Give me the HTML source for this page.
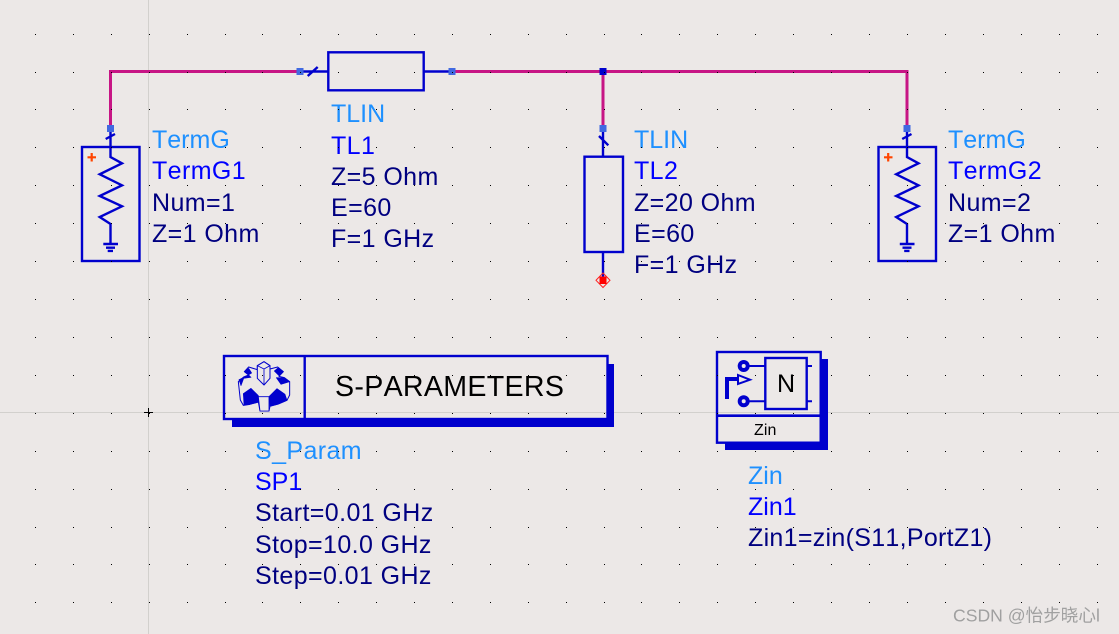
<!DOCTYPE html>
<html><head><meta charset="utf-8">
<style>
html,body{margin:0;padding:0;width:1119px;height:634px;overflow:hidden;background:#ece8e7}
svg{display:block}
text{font-family:"Liberation Sans","Noto Sans CJK SC",sans-serif;font-size:25px;letter-spacing:.4px;font-kerning:none}
.a{fill:#1e90ff}.b{fill:#0000ff}.c{fill:#000080}
.n{letter-spacing:0}
.k{fill:none;stroke:#0000cd;stroke-width:2}
.k3{fill:none;stroke:#0000cd;stroke-width:2.4}
.g{fill:#0000cd;stroke:#0000cd;stroke-width:2;stroke-linejoin:round}
.o{fill:#ece8e7;stroke:#0000cd;stroke-width:3;stroke-linejoin:round}
.l{fill:none;stroke:#0000cd;stroke-width:2.5;stroke-linejoin:round}
</style></head>
<body>
<svg width="1119" height="634" viewBox="0 0 1119 634" xmlns="http://www.w3.org/2000/svg">
<defs>
<g id="term">
<rect x="82" y="147" width="57.5" height="114" class="k3"/>
<path d="M110.5 128V157L122 163.3L99.7 174.3L122 185.3L99.7 196L122 206.3L99.7 217L110.5 224V244M103.3 244H118M106 247.7H115M107.7 250.9H113M105.7 139L115 134" class="k3"/>
<path d="M87.5 157.3H96M91.7 153V161.5" stroke="#ff4500" stroke-width="2.2" fill="none"/>
<rect x="107" y="125" width="7" height="7" fill="#4169e1"/>
</g>
<g id="r" fill="#000" shape-rendering="crispEdges">
<rect x="35" width="1" height="1"/><rect x="73" width="1" height="1"/><rect x="111" width="1" height="1"/><rect x="149" width="1" height="1"/><rect x="187" width="1" height="1"/><rect x="225" width="1" height="1"/><rect x="262" width="1" height="1"/><rect x="300" width="1" height="1"/><rect x="338" width="1" height="1"/><rect x="376" width="1" height="1"/><rect x="414" width="1" height="1"/><rect x="452" width="1" height="1"/><rect x="490" width="1" height="1"/><rect x="528" width="1" height="1"/><rect x="566" width="1" height="1"/><rect x="604" width="1" height="1"/><rect x="641" width="1" height="1"/><rect x="679" width="1" height="1"/><rect x="717" width="1" height="1"/><rect x="755" width="1" height="1"/><rect x="793" width="1" height="1"/><rect x="831" width="1" height="1"/><rect x="869" width="1" height="1"/><rect x="907" width="1" height="1"/><rect x="945" width="1" height="1"/><rect x="983" width="1" height="1"/><rect x="1021" width="1" height="1"/><rect x="1059" width="1" height="1"/><rect x="1097" width="1" height="1"/>
</g>
</defs>
<rect width="1119" height="634" fill="#ece8e7"/>
<path d="M148.5 0V634M0 412.5H1119" stroke="#d2d0cd" stroke-width="1" fill="none"/>
<path d="M144 412.5H153M148.5 408V417" stroke="#000" stroke-width="1" fill="none"/>

<!-- wires -->
<path d="M110.5 128V71.5H300M452 71.5H907V128M603 71.5V128" fill="none" stroke="#c71585" stroke-width="3"/>

<!-- TermG1 / TermG2 -->
<use href="#term"/>
<use href="#term" x="796.5"/>
<text x="152" y="148" class="a n">TermG</text>
<text x="152" y="179" class="b">TermG1</text>
<text x="152" y="211" class="c">Num=1</text>
<text x="152" y="242" class="c">Z=1 Ohm</text>
<text x="948" y="148" class="a n">TermG</text>
<text x="948" y="179" class="b">TermG2</text>
<text x="948" y="211" class="c">Num=2</text>
<text x="948" y="242" class="c">Z=1 Ohm</text>

<!-- TL1 -->
<rect x="328.3" y="52.3" width="95.4" height="38" class="k3"/>
<path d="M300 71.5H328M424 71.5H452M307.7 76L317.7 67" class="k3"/>
<rect x="296.5" y="68" width="7" height="7" fill="#4169e1"/>
<rect x="448.5" y="68" width="7" height="7" fill="#4169e1"/>
<rect x="599.5" y="68" width="7" height="7" fill="#0000cd"/>
<text x="331" y="122" class="a n">TLIN</text>
<text x="331" y="154" class="b">TL1</text>
<text x="331" y="185" class="c">Z=5 Ohm</text>
<text x="331" y="216" class="c">E=60</text>
<text x="331" y="247" class="c">F=1 GHz</text>

<!-- TL2 -->
<rect x="584.5" y="156.7" width="38.5" height="95.3" class="k3"/>
<path d="M603 128V156.7M603 252V280M599 136L608.3 145.3" class="k3"/>
<rect x="599.5" y="125" width="7" height="7" fill="#4169e1"/>
<path d="M603 273L610 280.3L603 287.5L596 280.3Z" fill="none" stroke="#ff2020" stroke-width="1"/>
<rect x="599.5" y="276.5" width="7" height="7.5" fill="#ff0000"/>
<text x="634" y="148" class="a n">TLIN</text>
<text x="634" y="179" class="b">TL2</text>
<text x="634" y="211" class="c">Z=20 Ohm</text>
<text x="634" y="242" class="c">E=60</text>
<text x="634" y="273" class="c">F=1 GHz</text>

<!-- S-Parameters -->
<rect x="232" y="364" width="382" height="63" fill="#0000cd"/>
<rect x="224" y="356" width="383.5" height="63" fill="#ece8e7"/>
<path d="M224 412.5H607" stroke="#d2d0cd" stroke-width="1"/>
<rect x="224" y="356" width="383.5" height="63" fill="none" stroke="#0000cd" stroke-width="2.4"/>
<path d="M304.7 356V419" stroke="#0000cd" stroke-width="2.4"/>
<g transform="translate(215 345) scale(.3333)">
<path class="o" d="M127 62L147 50L165 62V72L188 66L205 80L192 94L208 98L224 110V150L216 166L190 177L165 184L162 198H135L130 170L105 178L85 181L76 165L70 110L86 96L101 90L88 80L101 66L127 74Z"/>
<path class="g" d="M72 104L101 90L108 97L86 100L78 122Z"/>
<path class="g" d="M88 80L101 70L110 84L100 90Z"/>
<path class="g" d="M178 78L190 68L205 80L192 92Z"/>
<path class="g" d="M184 98L208 98L224 110L198 118Z"/>
<path class="g" d="M85 146L108 130L130 152V172L105 178L87 180Z"/>
<path class="g" d="M162 155L186 131L210 148L216 166L190 177L164 184Z"/>
<path class="o" d="M127 62L147 50L165 62V100L147 120L127 100Z"/>
<path class="l" d="M127 62L147 72L165 62M147 72V120"/>
<path class="l" d="M130 155H162V198H135Z" style="fill:#ece8e7"/>
</g>
<text x="335" y="396" fill="#000" style="font-size:28.6px;letter-spacing:.3px">S-PARAMETERS</text>
<text x="255" y="459" class="a">S_Param</text>
<text x="255" y="490" class="b n">SP1</text>
<text x="255" y="521" class="c">Start=0.01 GHz</text>
<text x="255" y="553" class="c">Stop=10.0 GHz</text>
<text x="255" y="584" class="c">Step=0.01 GHz</text>

<!-- Zin -->
<rect x="725" y="359" width="103" height="91" fill="#0000cd"/>
<rect x="717" y="352" width="103.7" height="90.7" fill="#ece8e7"/>
<path d="M717 412.5H820" stroke="#d2d0cd" stroke-width="1"/>
<rect x="717" y="352" width="103.7" height="90.7" fill="none" stroke="#0000cd" stroke-width="2.4"/>
<path d="M717 415.7H820.7" stroke="#0000cd" stroke-width="2.6"/>
<rect x="765.3" y="358" width="41.4" height="51" class="k3"/>
<path d="M748 366H765M748 401.3H765M807 366H812M807 401.3H812" class="k"/>
<circle cx="743.7" cy="366" r="4" fill="#ece8e7" stroke="#0000cd" stroke-width="4"/>
<circle cx="743.7" cy="401.3" r="4" fill="#ece8e7" stroke="#0000cd" stroke-width="4"/>
<path d="M727 399V379H738" fill="none" stroke="#0000cd" stroke-width="4"/>
<path d="M738 375L750 379.7L738 384Z" fill="#ece8e7" stroke="#0000cd" stroke-width="2"/>
<text x="777" y="392" fill="#000" style="font-size:25px;letter-spacing:0">N</text>
<text x="754" y="435" fill="#000" style="font-size:16px;letter-spacing:.1px">Zin</text>
<text x="748" y="484" class="a n">Zin</text>
<text x="748" y="515" class="b n">Zin1</text>
<text x="748" y="546" class="c" style="letter-spacing:.3px">Zin1=zin(S11,PortZ1)</text>

<!-- watermark -->
<text x="953" y="621.5" fill="#a0a0a0" style="font-size:17.6px;letter-spacing:0">CSDN @怡步晓心l</text>

<!-- grid dots -->
<use href="#r" y="34"/><use href="#r" y="72"/><use href="#r" y="109"/><use href="#r" y="147"/><use href="#r" y="185"/><use href="#r" y="223"/><use href="#r" y="261"/><use href="#r" y="299"/><use href="#r" y="337"/><use href="#r" y="375"/><use href="#r" y="413"/><use href="#r" y="451"/><use href="#r" y="489"/><use href="#r" y="527"/><use href="#r" y="564"/><use href="#r" y="602"/>
</svg>
</body></html>
